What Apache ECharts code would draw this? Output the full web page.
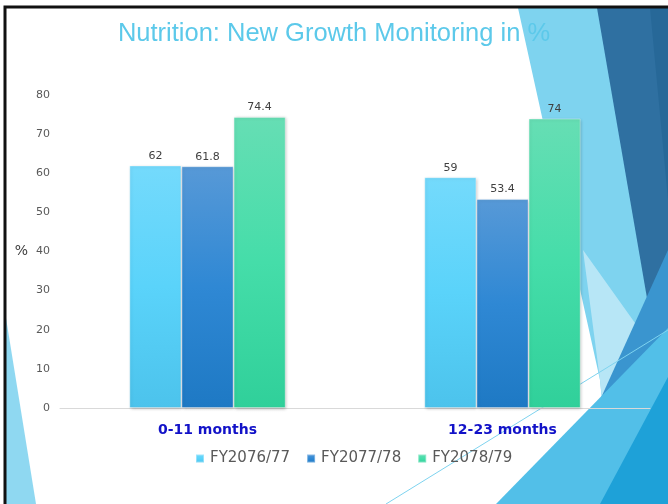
<!DOCTYPE html>
<html>
<head>
<meta charset="utf-8">
<script src="https://cdn.jsdelivr.net/npm/echarts@6/dist/echarts.min.js"></script>
<style>
  html, body { margin: 0; padding: 0; background: #fff; }
  #chart { width: 668px; height: 504px; }
</style>
</head>
<body>
<div id="chart"></div>
<script>
// chart data
var ageGroups = ['0-11 months', '12-23 months'];
var fiscalYears = ['FY2076/77', 'FY2077/78', 'FY2078/79'];
var fy7677 = [62, 59];
var fy7778 = [61.8, 53.4];
var fy7879 = [74.4, 74];
var yTicks = { min: 0, max: 80, step: 10 };

var barColors = [
  ['#74DAFC', '#5AD3FA', '#4CC3EC'],
  ['#5799D7', '#2F88D4', '#1E79C4'],
  ['#66DEB4', '#45DDA9', '#30D09A']
];

function grad(c) {
  return new echarts.graphic.LinearGradient(0, 0, 0, 1, [
    { offset: 0, color: c[0] },
    { offset: 0.5, color: c[1] },
    { offset: 1, color: c[2] }
  ]);
}

function makeSeries(name, data, idx) {
  return {
    name: name,
    type: 'bar',
    data: data,
    barGap: '0%',
    barCategoryGap: '47%',
    itemStyle: {
      color: grad(barColors[idx]),
      borderColor: 'rgba(255,255,255,0.35)',
      borderWidth: 1,
      shadowBlur: 3,
      shadowOffsetX: 1,
      shadowOffsetY: 1,
      shadowColor: 'rgba(0,0,0,0.25)'
    },
    label: {
      show: true,
      position: 'top',
      distance: 4,
      color: '#404040',
      fontSize: 11,
      fontFamily: 'DejaVu Sans'
    },
    z: 3
  };
}

var chart = echarts.init(document.getElementById('chart'));

var option = {
  backgroundColor: '#fff',
  animation: false,
  title: {
    text: 'Nutrition: New Growth Monitoring in %',
    left: 'center',
    top: 16,
    textStyle: {
      color: '#5CC9EA',
      fontSize: 25.5,
      fontWeight: 'normal',
      fontFamily: 'Liberation Sans'
    }
  },
  graphic: [
    // slide decoration shapes
    { type: 'polygon', z: 0, shape: { points: [[518, 8], [598, 8], [668, 400], [668, 504], [612, 504], [600, 380]] }, style: { fill: '#7ED3EF' } },
    { type: 'polygon', z: 0, shape: { points: [[583, 250], [600, 380], [612, 504], [640, 504], [640, 330]] }, style: { fill: '#B7E6F6' } },
    { type: 'polygon', z: 0, shape: { points: [[597, 8], [668, 8], [668, 420]] }, style: { fill: '#2F70A1' } },
    { type: 'polygon', z: 0, shape: { points: [[650, 8], [668, 8], [668, 200]] }, style: { fill: '#276898' } },
    { type: 'polygon', z: 0, shape: { points: [[600, 400], [668, 330], [668, 250]] }, style: { fill: '#3A95CF' } },
    { type: 'polygon', z: 0, shape: { points: [[496, 504], [668, 328], [668, 504]] }, style: { fill: '#52BFE8' } },
    { type: 'polygon', z: 0, shape: { points: [[600, 504], [668, 377], [668, 504]] }, style: { fill: '#1EA1D8' } },
    { type: 'line', z: 0, shape: { x1: 386, y1: 504, x2: 668, y2: 330 }, style: { stroke: '#7ED3EF', lineWidth: 1 } },
    { type: 'polygon', z: 0, shape: { points: [[6, 318], [6, 504], [36, 504]] }, style: { fill: '#8FD8F1' } },
    // slide frame
    { type: 'polyline', z: 10, shape: { points: [[5, 504], [5, 7], [668, 7]] }, style: { stroke: '#111', lineWidth: 3, fill: null } }
  ],
  legend: {
    data: fiscalYears,
    bottom: 33,
    left: 190,
    itemWidth: 8,
    itemHeight: 8,
    itemGap: 16,
    icon: 'rect',
    textStyle: {
      color: '#595959',
      fontSize: 15,
      fontFamily: 'DejaVu Sans',
      padding: [0, 0, 0, 1]
    }
  },
  grid: {
    left: 60,
    right: 18,
    top: 95,
    bottom: 96
  },
  xAxis: {
    type: 'category',
    data: ageGroups,
    axisLine: { lineStyle: { color: '#D9D9D9', width: 1 } },
    axisTick: { show: false },
    axisLabel: {
      color: '#1212C8',
      fontSize: 14,
      fontWeight: 'bold',
      fontFamily: 'DejaVu Sans',
      margin: 15
    }
  },
  yAxis: {
    type: 'value',
    min: yTicks.min,
    max: yTicks.max,
    interval: yTicks.step,
    name: '%',
    nameLocation: 'middle',
    nameRotate: 0,
    nameGap: 32,
    nameTextStyle: { color: '#404040', fontSize: 14, fontFamily: 'DejaVu Sans' },
    axisLine: { show: false },
    axisTick: { show: false },
    splitLine: { show: false },
    axisLabel: {
      color: '#595959',
      fontSize: 11,
      fontFamily: 'DejaVu Sans',
      margin: 10
    }
  },
  series: [
    makeSeries(fiscalYears[0], fy7677, 0),
    makeSeries(fiscalYears[1], fy7778, 1),
    makeSeries(fiscalYears[2], fy7879, 2)
  ]
};

chart.setOption(option);
window.onresize = function () {
  chart.resize();
};
</script>
</body>
</html>
